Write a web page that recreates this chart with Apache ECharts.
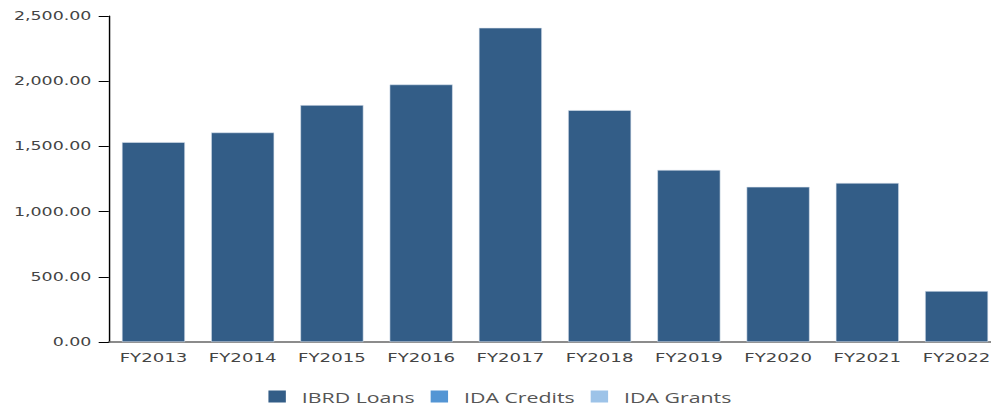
<!DOCTYPE html>
<html>
<head>
<meta charset="utf-8">
<script src="https://cdn.jsdelivr.net/npm/echarts@6/dist/echarts.min.js"></script>
<style>
  html, body { margin: 0; padding: 0; background: #fff; overflow: hidden; }
  /* the reference is stretched sideways, so the chart is drawn narrow and widened */
  #chart { width: 683px; height: 407px; transform: scaleX(1.451); transform-origin: 0 0; }
</style>
</head>
<body>
<div id="chart"></div>
<script>
var years = ['FY2013', 'FY2014', 'FY2015', 'FY2016', 'FY2017', 'FY2018', 'FY2019', 'FY2020', 'FY2021', 'FY2022']
var ibrdLoans = [1533, 1607, 1817, 1975, 2410, 1778, 1320, 1190, 1220, 391]
var idaCredits = [0, 0, 0, 0, 0, 0, 0, 0, 0, 0]
var idaGrants = [0, 0, 0, 0, 0, 0, 0, 0, 0, 0]
var yTicks = [0, 500, 1000, 1500, 2000, 2500]

function fmt(v) {
  var s = v.toFixed(2)
  var parts = s.split('.')
  parts[0] = parts[0].replace(/\B(?=(\d{3})+(?!\d))/g, ',')
  return parts.join('.')
}

var chart = echarts.init(document.getElementById('chart'), null, { renderer: 'svg' })
chart.setOption({
  animation: false,
  color: ['#335d87', '#5395d4', '#9dc3e8'],
  grid: {
    left: 75,
    width: 615, // runs past the right edge, as in the reference
    top: 16,
    bottom: 65,
    outerBoundsMode: 'none'
  },
  legend: {
    left: 180,
    bottom: -2,
    itemWidth: 12,
    itemHeight: 12,
    itemGap: 11,
    icon: 'rect',
    itemStyle: { borderWidth: 0 },
    textStyle: {
      fontFamily: 'Open Sans',
      fontSize: 14.7,
      color: '#555',
      padding: [0, 0, 0, 6]
    },
    data: ['IBRD Loans', 'IDA Credits', 'IDA Grants']
  },
  xAxis: {
    type: 'category',
    data: years,
    axisLine: { lineStyle: { color: '#666', width: 1.5 } },
    axisTick: { length: 5, lineStyle: { color: '#000' } },
    axisLabel: {
      margin: 9,
      fontFamily: 'DejaVu Sans',
      fontSize: 12.5,
      color: '#444'
    }
  },
  yAxis: {
    type: 'value',
    min: yTicks[0],
    max: yTicks[yTicks.length - 1],
    interval: 500,
    splitLine: { show: false },
    axisLine: { show: true, lineStyle: { color: '#000' } },
    axisTick: { show: true, length: 7, lineStyle: { color: '#000' } },
    axisLabel: {
      margin: 12,
      fontFamily: 'DejaVu Sans',
      fontSize: 12,
      color: '#444',
      formatter: fmt
    }
  },
  series: [
    {
      name: 'IBRD Loans',
      type: 'bar',
      stack: 'total',
      barCategoryGap: '29%',
      itemStyle: { borderColor: 'rgba(220,230,240,0.8)', borderWidth: 0.6 },
      data: ibrdLoans
    },
    {
      name: 'IDA Credits',
      type: 'bar',
      stack: 'total',
      data: idaCredits
    },
    {
      name: 'IDA Grants',
      type: 'bar',
      stack: 'total',
      data: idaGrants
    }
  ]
})
</script>
</body>
</html>
